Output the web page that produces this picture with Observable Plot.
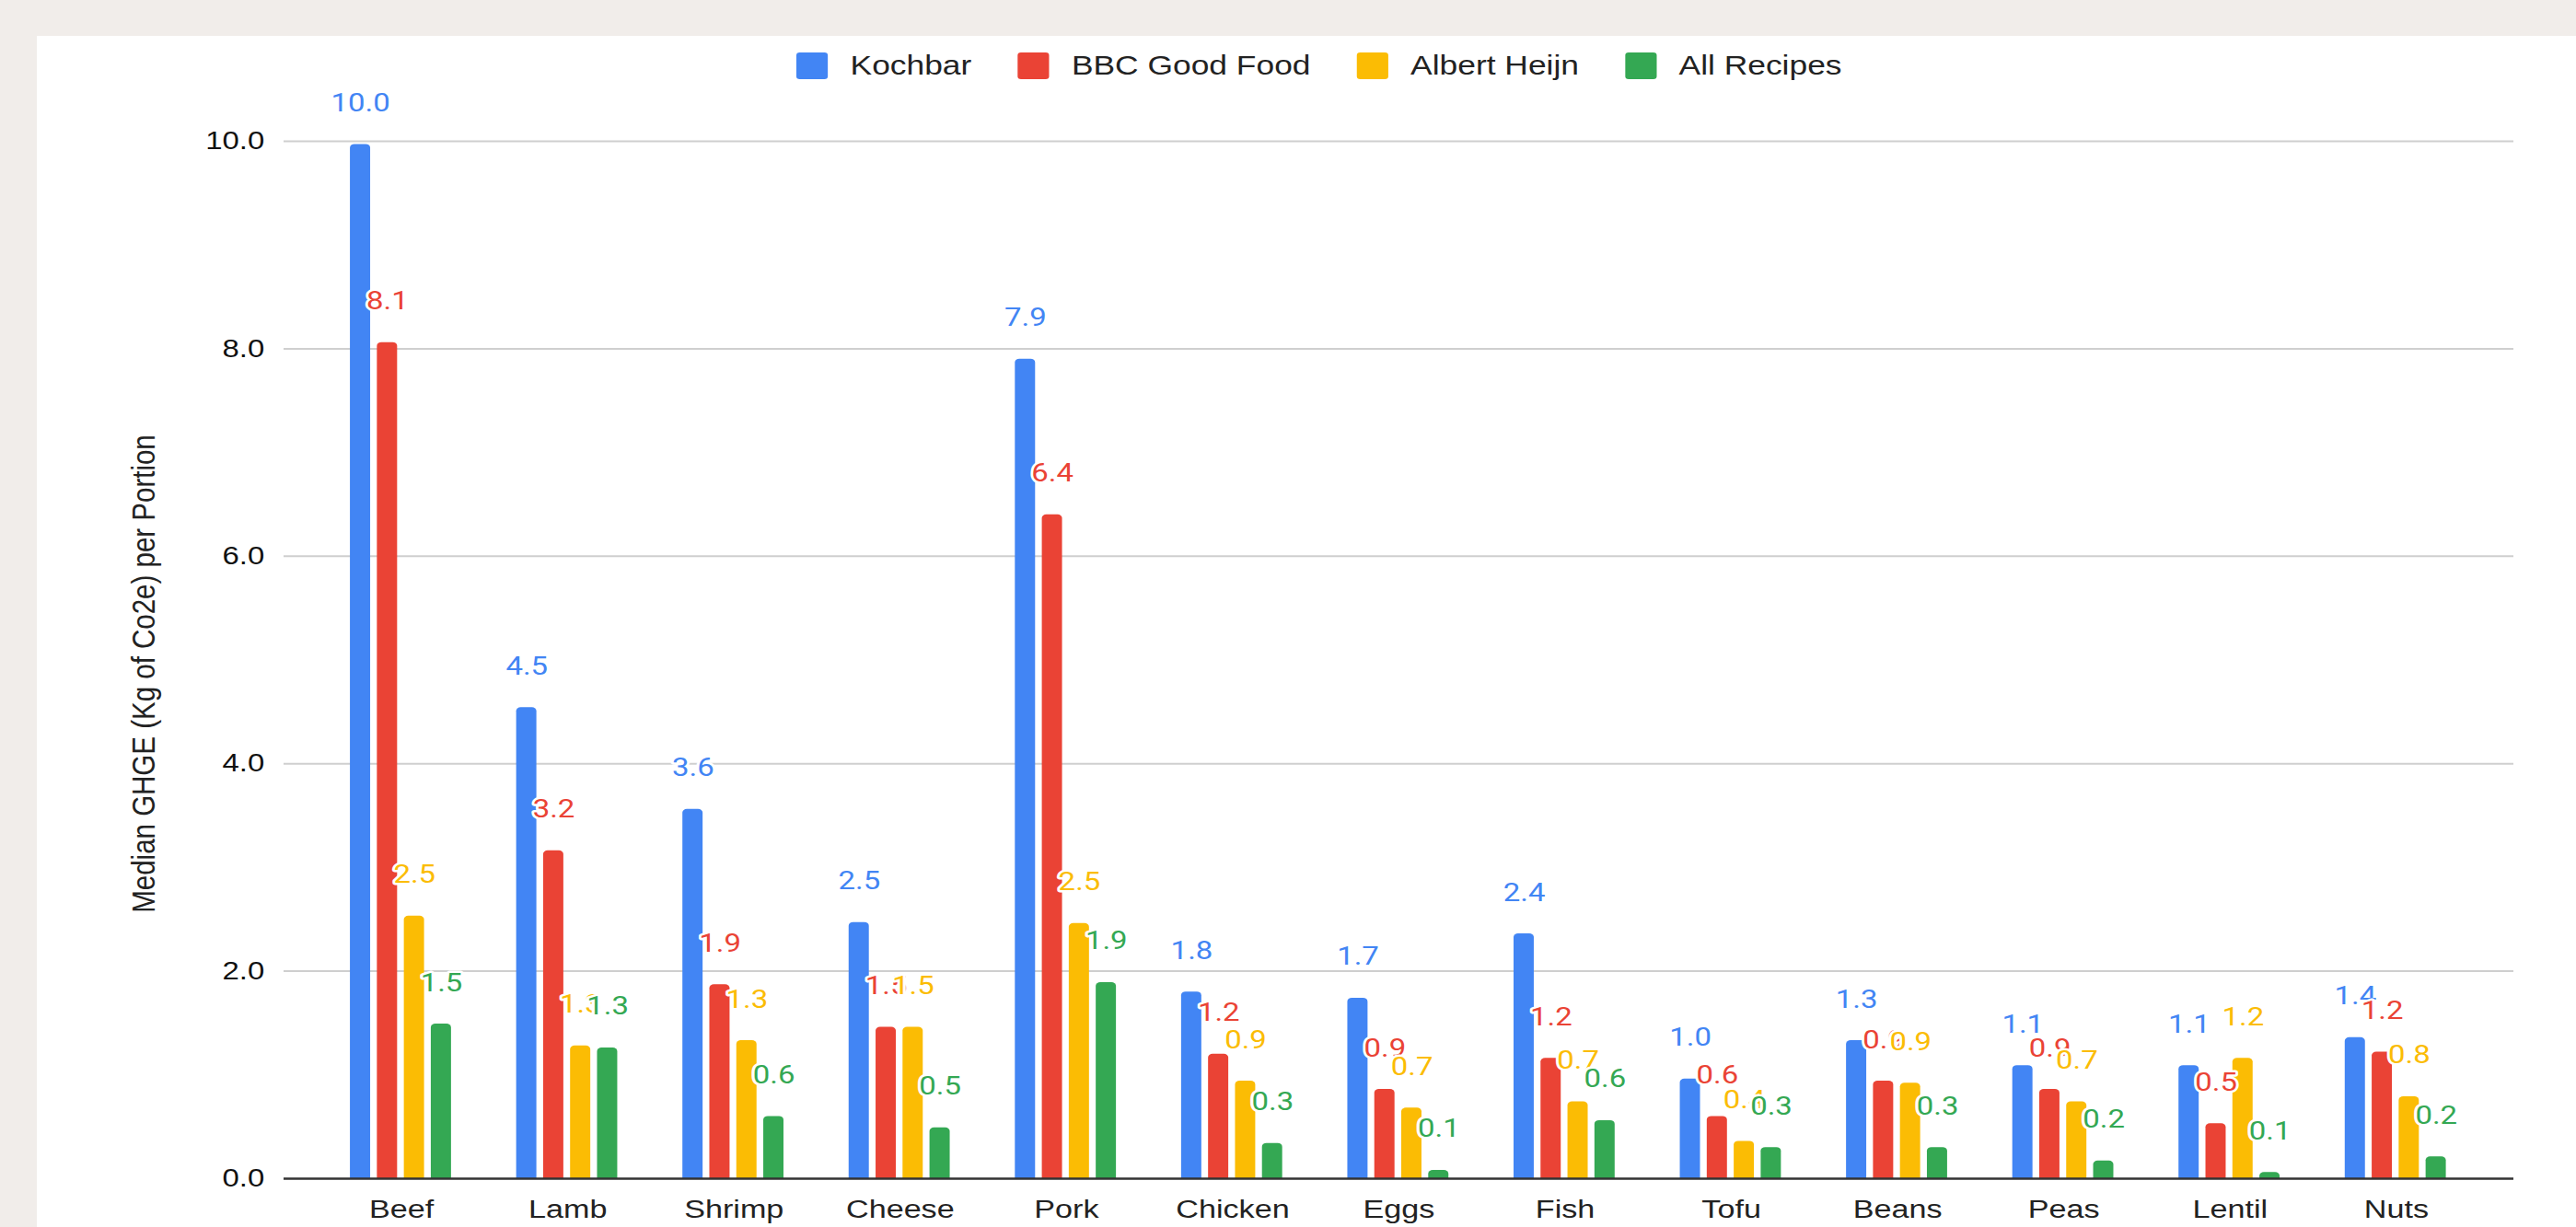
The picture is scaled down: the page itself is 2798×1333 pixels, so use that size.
<!DOCTYPE html>
<html>
<head>
<meta charset="utf-8">
<script src="https://cdn.jsdelivr.net/npm/d3@7"></script>
<script src="https://cdn.jsdelivr.net/npm/@observablehq/plot@0.6"></script>
<style>
html, body { margin: 0; padding: 0; background: #f1edea; width: 2798px; height: 1333px; overflow: hidden; }
#panel { position: absolute; left: 40px; top: 39px; right: 0; bottom: 0; background: #ffffff; }
#stage { position: absolute; left: 0; top: 0; width: 2293px; height: 1333px; transform: scaleX(1.22); transform-origin: 0 0; }
#stage svg { position: absolute; left: 0; top: 0; }
#legend { position: absolute; left: 709px; top: 57px; height: 29px; display: flex; align-items: center;
  font-family: "Liberation Sans", Arial, sans-serif; font-size: 29px; color: #222; white-space: nowrap; }
.item { display: flex; align-items: center; margin-right: 41px; }
.sw { width: 28px; height: 29px; border-radius: 3px; margin-right: 20px; }
</style>
</head>
<body>
<div id="panel"></div>
<div id="stage"><div id="legend"></div></div>
<script>
const foods = ["Beef","Lamb","Shrimp","Cheese","Pork","Chicken","Eggs","Fish","Tofu","Beans","Peas","Lentil","Nuts"];
const sources = ["Kochbar","BBC Good Food","Albert Heijn","All Recipes"];
const colors = ["#4285f4","#ea4335","#fbbc04","#34a853"];
const kochbar    = [9.97, 4.54, 3.56, 2.47, 7.90, 1.80, 1.74, 2.36, 0.96, 1.33, 1.09, 1.09, 1.36];
const bbcGood    = [8.06, 3.16, 1.87, 1.46, 6.40, 1.20, 0.86, 1.16, 0.60, 0.94, 0.86, 0.53, 1.22];
const albert     = [2.53, 1.28, 1.33, 1.46, 2.46, 0.94, 0.68, 0.74, 0.36, 0.92, 0.74, 1.16, 0.79];
const allRecipes = [1.49, 1.26, 0.60, 0.49, 1.89, 0.34, 0.08, 0.56, 0.30, 0.30, 0.17, 0.06, 0.21];
const yTicks = [0, 2, 4, 6, 8, 10];
const yTitle = "Median GHGE (Kg of Co2e) per Portion";

const series = [kochbar, bbcGood, albert, allRecipes];
const data = foods.flatMap((f, i) => sources.map((s, j) => ({food: f, source: s, value: series[j][i]})));

const S = 1.22, W = Math.round(2798 / S), H = 1333;
const ml = 308 / S, mr = W - 2730 / S, mt = 153, mb = H - 1280;
const font = "Liberation Sans, Arial, sans-serif";
const common = {
  width: W, height: H, marginLeft: ml, marginRight: mr, marginTop: mt, marginBottom: mb,
  y: {domain: [0, 10], axis: null},
  style: {background: "transparent", fontFamily: font, overflow: "visible"}
};

// Layer A: grid, y tick labels, y title
const A = Plot.plot({
  ...common,
  marks: [
    Plot.ruleY(yTicks.filter(d => d > 0), {stroke: "#cfcfcf", strokeWidth: 2}),
    Plot.text(yTicks, {y: d => d, text: d => d.toFixed(1), frameAnchor: "left", textAnchor: "end",
      dx: 235 - ml, fontSize: 27, fill: "#111"}),
    Plot.text([yTitle], {text: d => d, frameAnchor: "left", textAnchor: "middle", rotate: -90,
      dx: 128 - ml, dy: 15, fontSize: 29.5, fill: "#222"})
  ]
});

// Layer B: bars, value labels, category axis
const B = Plot.plot({
  ...common,
  fx: {domain: foods, paddingInner: 0.38, paddingOuter: 0.36, label: null},
  x: {domain: sources, paddingInner: 0.25, paddingOuter: 0, axis: null},
  color: {domain: sources, range: colors},
  marks: [
    Plot.barY(data, {fx: "food", x: "source", y: "value", fill: "source", ry1: 4}),
    Plot.text(data, {fx: "food", x: "source", y: "value", text: d => d.value.toFixed(1), fill: "source",
      stroke: "white", strokeWidth: 5, lineAnchor: "bottom", dy: -36, fontFamily: "Roboto", fontSize: 27}),
    Plot.axisFx({anchor: "bottom", tickSize: 0, tickPadding: 23, label: null, fontSize: 28, fill: "#222"})
  ]
});

// Layer C: baseline
const C = Plot.plot({
  ...common,
  marks: [Plot.ruleY([0], {stroke: "#333", strokeWidth: 2.5})]
});

const stage = document.getElementById("stage");
stage.appendChild(A);
stage.appendChild(B);
stage.appendChild(C);

const legend = document.getElementById("legend");
sources.forEach((s, i) => {
  const item = document.createElement("div");
  item.className = "item";
  const sw = document.createElement("div");
  sw.className = "sw";
  sw.style.background = colors[i];
  const lab = document.createElement("span");
  lab.textContent = s;
  item.appendChild(sw);
  item.appendChild(lab);
  legend.appendChild(item);
});
</script>
</body>
</html>
